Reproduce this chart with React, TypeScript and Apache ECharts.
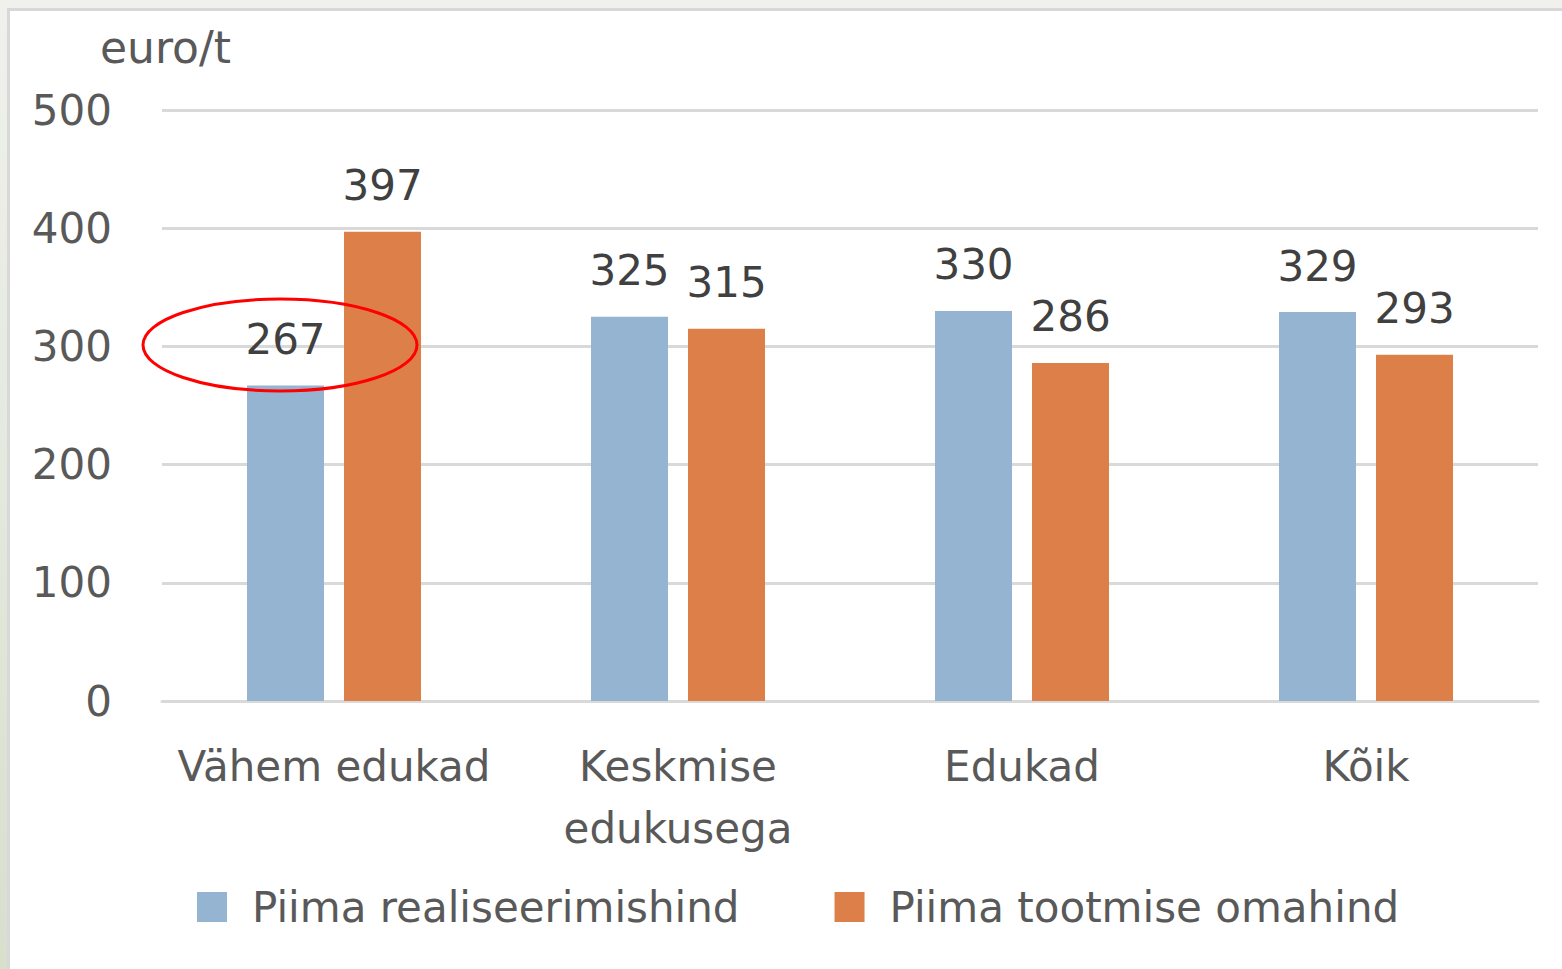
import React, { useEffect, useRef } from "react";
import * as echarts from "echarts";

const categories = ["Vähem edukad", "Keskmise\nedukusega", "Edukad", "Kõik"];
const seriesNames = ["Piima realiseerimishind", "Piima tootmise omahind"];
const realiseerimishind = [267, 325, 330, 329];
const omahind = [397, 315, 286, 293];
const yMin = 0;
const yMax = 500;
const yStep = 100;
const unitLabel = "euro/t";

const FONT = "'DejaVu Sans', 'Open Sans', sans-serif";
const GRAY = "#595959";
const DARK = "#404040";
const BLUE = "#95b4d2";
const ORANGE = "#dd7f48";

export default function App() {
  const ref = useRef<HTMLDivElement>(null);

  useEffect(() => {
    if (!ref.current) return;
    const chart = echarts.init(ref.current, undefined, { renderer: "svg" });
    const W = 1562;
    const H = 969;
    chart.setOption({
      animation: false,
      backgroundColor: "#f0f1ed",
      textStyle: { fontFamily: FONT },
      graphic: [
        {
          type: "rect",
          z: -10,
          silent: true,
          shape: { x: 0, y: 0, width: 7, height: H },
          style: {
            fill: new echarts.graphic.LinearGradient(0, 0, 0, 1, [
              { offset: 0, color: "#f0f1ed" },
              { offset: 1, color: "#d8dfcd" },
            ]),
          },
        },
        {
          type: "rect",
          z: -10,
          silent: true,
          shape: { x: 7, y: 8, width: W - 7, height: H - 8 },
          style: { fill: "#d8d8d8" },
        },
        {
          type: "rect",
          z: -9,
          silent: true,
          shape: { x: 10, y: 11, width: W - 10, height: H - 11 },
          style: { fill: "#ffffff" },
        },
        {
          type: "text",
          left: 100,
          top: 25,
          style: {
            text: unitLabel,
            fontSize: 44,
            fontFamily: FONT,
            fill: GRAY,
          },
        },
        {
          type: "ellipse",
          z: 100,
          silent: true,
          shape: { cx: 280, cy: 345, rx: 137, ry: 46 },
          style: { fill: "none", stroke: "#ff0000", lineWidth: 3 },
        },
      ],
      grid: { left: 162, right: 24, top: 110, height: 591, containLabel: false },
      legend: {
        left: 192,
        top: 881,
        itemWidth: 30,
        itemHeight: 30,
        itemGap: 95,
        icon: "rect",
        textStyle: { fontSize: 42, color: GRAY, fontFamily: FONT, padding: [0, 0, 0, 20] },
        data: seriesNames,
      },
      xAxis: {
        type: "category",
        data: categories,
        axisLine: { lineStyle: { color: "#d9d9d9", width: 3 } },
        axisTick: { show: false },
        axisLabel: {
          color: GRAY,
          fontSize: 42,
          lineHeight: 62,
          margin: 34,
          fontFamily: FONT,
          interval: 0,
        },
      },
      yAxis: {
        type: "value",
        min: yMin,
        max: yMax,
        interval: yStep,
        axisLine: { show: false },
        axisTick: { show: false },
        splitLine: { lineStyle: { color: "#d9d9d9", width: 3 } },
        axisLabel: { color: GRAY, fontSize: 42, margin: 50, fontFamily: FONT },
      },
      series: [
        {
          name: seriesNames[0],
          type: "bar",
          data: realiseerimishind,
          barWidth: 77,
          barGap: "26%",
          itemStyle: { color: BLUE },
          label: {
            show: true,
            position: "top",
            distance: 25,
            color: DARK,
            fontSize: 42,
            fontFamily: FONT,
          },
        },
        {
          name: seriesNames[1],
          type: "bar",
          data: omahind,
          barWidth: 77,
          barGap: "26%",
          itemStyle: { color: ORANGE },
          label: {
            show: true,
            position: "top",
            distance: 25,
            color: DARK,
            fontSize: 42,
            fontFamily: FONT,
          },
        },
      ],
    });
    return () => chart.dispose();
  }, []);

  return (
    <div
      ref={ref}
      style={{ position: "fixed", left: 0, top: 0, width: 1562, height: 969 }}
    />
  );
}
